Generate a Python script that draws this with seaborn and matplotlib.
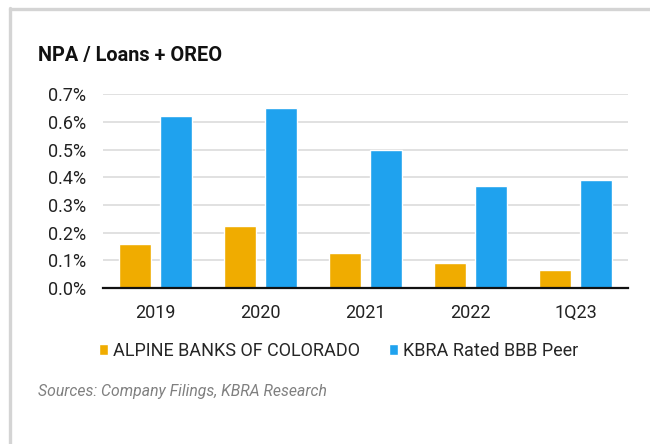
import matplotlib
matplotlib.use("Agg")
import matplotlib.pyplot as plt
import seaborn as sns
import pandas as pd
from matplotlib.lines import Line2D
from matplotlib.ticker import FuncFormatter, FixedLocator

categories = ["2019", "2020", "2021", "2022", "1Q23"]
alpine = [0.16, 0.225, 0.125, 0.09, 0.065]
peer = [0.62, 0.65, 0.50, 0.37, 0.39]
series_names = ["ALPINE BANKS OF COLORADO", "KBRA Rated BBB Peer"]
colors = ["#F0AC00", "#1FA2EE"]
y_ticks = [0.0, 0.1, 0.2, 0.3, 0.4, 0.5, 0.6, 0.7]

df = pd.DataFrame({
    "cat": categories * 2,
    "val": alpine + peer,
    "series": [series_names[0]] * len(categories) + [series_names[1]] * len(categories),
})

sns.set_theme(style="white")
plt.rcParams["font.family"] = ["Roboto", "DejaVu Sans"]

fig = plt.figure(figsize=(6.5, 4.44), dpi=100)
ax = fig.add_axes([103 / 650, 1 - 288 / 444, (628 - 103) / 650, (288 - 94.3) / 444])

sns.barplot(data=df, x="cat", y="val", hue="series", palette=colors,
            width=0.775, gap=0.21, ax=ax, saturation=1, legend=True)

ax.set_ylim(0, 0.7)
ax.set_xlim(-0.5, len(categories) - 0.5)
ax.set_yticks(y_ticks)
ax.yaxis.set_major_formatter(FuncFormatter(lambda v, p: f"{v:.1f}%"))
ax.grid(axis="y", color="#d9d9d9", linewidth=1.1)
ax.set_axisbelow(True)
for s in ["top", "right", "left"]:
    ax.spines[s].set_visible(False)
ax.spines["bottom"].set_color("#111111")
ax.spines["bottom"].set_linewidth(1.6)
ax.set_xlabel("")
ax.set_ylabel("")
ax.tick_params(axis="y", length=0, labelsize=13, pad=12, labelcolor="#222222")
ax.tick_params(axis="x", which="major", length=0, labelsize=13, pad=11.5, labelcolor="#222222")
ax.xaxis.set_minor_locator(FixedLocator([i - 0.5 for i in range(len(categories) + 1)]))
ax.tick_params(axis="x", which="minor", length=5, width=1.3, color="#111111", direction="out")

handles, labels = ax.get_legend_handles_labels()
ax.get_legend().remove()
fig.legend(handles, labels, loc="center left", bbox_to_anchor=(98.5 / 650, 1 - 351 / 444),
           ncol=2, frameon=False, fontsize=13, handlelength=0.54, handleheight=0.54,
           handletextpad=0.25, columnspacing=1.6, borderpad=0, borderaxespad=0)

fig.text(38 / 650, 1 - 55 / 444, "NPA / Loans + OREO", fontsize=14.3, fontweight="bold",
         va="center", ha="left", color="#111111")
fig.text(38 / 650, 1 - 391 / 444, "Sources: Company Filings, KBRA Research", fontsize=11.3,
         style="italic", color="#808080", va="center", ha="left")

# partial frame
fig.add_artist(Line2D([9.5 / 650, 1.0], [1 - 9.5 / 444, 1 - 9.5 / 444], transform=fig.transFigure,
                      color="#d4d4d4", linewidth=2.4))
fig.add_artist(Line2D([9.5 / 650, 9.5 / 650], [0.0, 1 - 8.5 / 444], transform=fig.transFigure,
                      color="#d4d4d4", linewidth=2.4))

fig.savefig("out.png", dpi=100)
